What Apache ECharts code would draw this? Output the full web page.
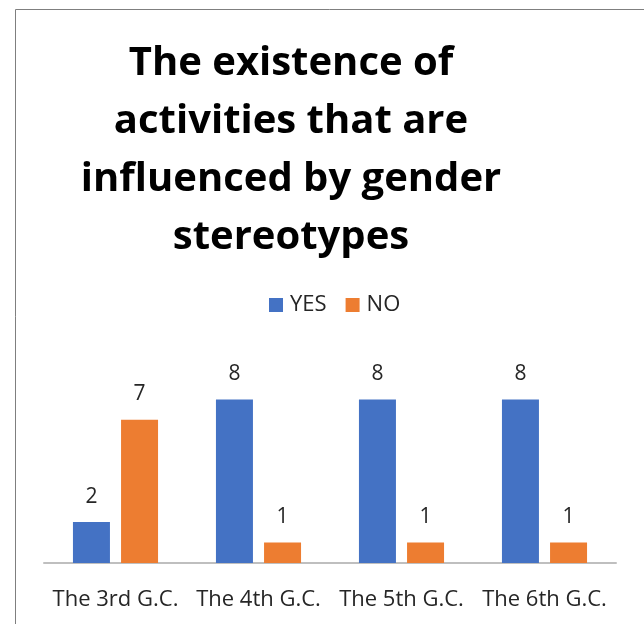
<!DOCTYPE html>
<html><head><meta charset="utf-8">
<script src="https://cdn.jsdelivr.net/npm/echarts@6/dist/echarts.min.js"></script>
<style>html,body{margin:0;padding:0;background:#fff}#c{width:644px;height:624px}</style>
</head><body><div id="c"></div>
<script>
const categories = ['The 3rd G.C.', 'The 4th G.C.', 'The 5th G.C.', 'The 6th G.C.'];
const yesValues = [2, 8, 8, 8];
const noValues = [7, 1, 1, 1];
const titleText = 'The existence of\nactivities that are\ninfluenced by gender\nstereotypes';
const FONT = 'Open Sans';
const chart = echarts.init(document.getElementById('c'), null, {renderer: 'canvas'});
const labelStyle = {show: true, position: 'top', distance: 15, fontSize: 21, color: '#262626', fontFamily: FONT};
chart.setOption({
  animation: false,
  title: {
    text: titleText, left: 286, top: 30, textAlign: 'center',
    textStyle: {fontFamily: FONT, fontWeight: 'bold', fontSize: 40, lineHeight: 58, color: '#000'}
  },
  legend: {
    data: ['YES', 'NO'], top: 289, left: 264, icon: 'rect', itemWidth: 14, itemHeight: 14, itemGap: 19,
    textStyle: {fontFamily: FONT, fontSize: 22, color: '#262626', padding: [0, 0, 0, 2]}
  },
  grid: {left: 44, right: 28, top: 358.5, bottom: 61},
  xAxis: {
    type: 'category', data: categories,
    axisLine: {lineStyle: {color: '#BFBFBF', width: 2}}, axisTick: {show: false},
    axisLabel: {fontFamily: FONT, fontSize: 22, color: '#262626', margin: 26, interval: 0}
  },
  yAxis: {type: 'value', min: 0, max: 10, show: false, splitLine: {show: false}},
  series: [
    {name: 'YES', type: 'bar', data: yesValues, barWidth: 37, barGap: '30%', itemStyle: {color: '#4472C4'}, label: labelStyle},
    {name: 'NO', type: 'bar', data: noValues, barWidth: 37, barGap: '30%', itemStyle: {color: '#ED7D31'}, label: labelStyle}
  ],
  graphic: [
    {type: 'line', shape: {x1: 15.5, y1: 9.5, x2: 15.5, y2: 624}, style: {stroke: '#7F7F7F', lineWidth: 1}},
    {type: 'line', shape: {x1: 15.5, y1: 9.5, x2: 644, y2: 9.5}, style: {stroke: '#7F7F7F', lineWidth: 1}}
  ]
});
</script></body></html>
